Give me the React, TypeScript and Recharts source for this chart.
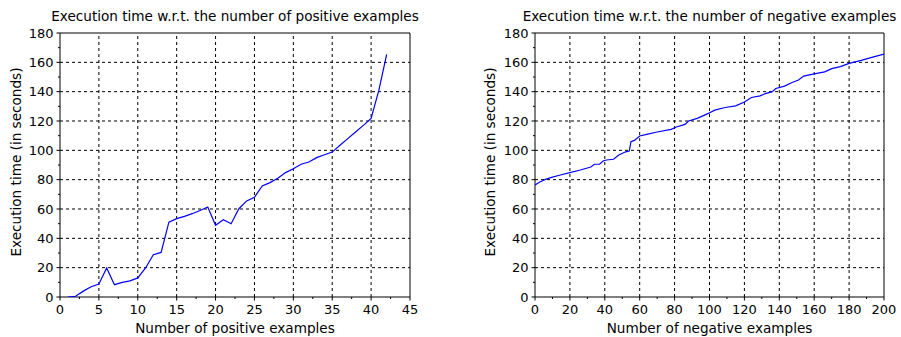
import React from 'react';
import { LineChart, Line, XAxis, YAxis, ReferenceLine, ReferenceArea, Label } from 'recharts';

// ---- data ----
const positiveCounts = [1, 2, 3, 4, 5, 6, 7, 8, 9, 10, 11, 12, 13, 14, 15, 16, 17, 18, 19, 20, 21, 22, 23, 24, 25, 26, 27, 28, 29, 30, 31, 32, 33, 34, 35, 36, 37, 38, 39, 40, 41, 42];
const positiveTimes = [0, 0.5, 4, 7, 8.9, 19.8, 8.4, 10, 11, 13, 19.8, 28.8, 30.4, 51, 53.4, 55, 56.8, 59, 61.4, 48.9, 52.7, 50, 60.2, 65.5, 68, 75.7, 78, 81, 84.8, 87.5, 90.5, 92, 95, 97, 98.8, 103.5, 108, 112.5, 117, 121.7, 141, 165.5];

const negativeCounts = [0, 3, 6, 9, 14, 20, 26, 32, 34, 37, 39, 41, 45, 48, 52, 54, 55, 57, 60, 64, 70, 78, 81, 86, 88, 93, 99, 103, 109, 115, 120, 124, 129, 132, 136, 138, 143, 147, 151, 154, 160, 166, 170, 175, 180, 187, 193, 200];
const negativeTimes = [76.4, 78.6, 80.2, 81.4, 83, 84.8, 86.6, 88.6, 90.5, 90.5, 92.7, 93.4, 93.9, 96.8, 99, 99.5, 105.9, 106.8, 109.8, 110.9, 112.5, 114.3, 115.9, 117.7, 120, 121.8, 125, 127.4, 129.2, 130.3, 133, 136, 137.1, 138.7, 140, 142.2, 143.8, 146.1, 147.9, 150.6, 152.1, 153.5, 155.7, 157.1, 159.3, 161.3, 163.4, 165.6];

const leftXMajor = [0, 5, 10, 15, 20, 25, 30, 35, 40, 45];
const leftXMinor = [2.5, 7.5, 12.5, 17.5, 22.5, 27.5, 32.5, 37.5, 42.5];
const rightXMajor = [0, 20, 40, 60, 80, 100, 120, 140, 160, 180, 200];
const rightXMinor = [10, 30, 50, 70, 90, 110, 130, 150, 170, 190];
const yMajor = [0, 20, 40, 60, 80, 100, 120, 140, 160, 180];
const yMinor = [10, 30, 50, 70, 90, 110, 130, 150, 170];

const leftTitle = 'Execution time w.r.t. the number of positive examples';
const rightTitle = 'Execution time w.r.t. the number of negative examples';
const leftXLabel = 'Number of positive examples';
const rightXLabel = 'Number of negative examples';
const yLabel = 'Execution time (in seconds)';

const positiveData = positiveCounts.map((n, i) => ({ n, t: positiveTimes[i] }));
const negativeData = negativeCounts.map((n, i) => ({ n, t: negativeTimes[i] }));

const FONT = 'DejaVu Sans';
const TICK_FS = 13;
const LABEL_FS = 13.6;

const sortNum = (a: number[]) => [...a].sort((p, q) => p - q);

const makeXTick = (majors: number[]) => (props: any) => {
  const { x, y, payload } = props;
  const v = payload.value;
  const major = majors.includes(v);
  return (
    <g>
      <line x1={x} x2={x} y1={y} y2={y + (major ? 3.5 : 2)} stroke="#000" strokeWidth={1} />
      {major && (
        <text x={x} y={y + 16.5} textAnchor="middle" fontFamily={FONT} fontSize={TICK_FS} fill="#000">
          {v}
        </text>
      )}
    </g>
  );
};

const makeYTick = (majors: number[]) => (props: any) => {
  const { x, y, payload } = props;
  const v = payload.value;
  const major = majors.includes(v);
  return (
    <g>
      <line x1={x} x2={x - (major ? 3.5 : 2)} y1={y} y2={y} stroke="#000" strokeWidth={1} />
      {major && (
        <text x={x - 6.5} y={y + 4.7} textAnchor="end" fontFamily={FONT} fontSize={TICK_FS} fill="#000">
          {v}
        </text>
      )}
    </g>
  );
};

const makeYLabel = (lx: number) => (props: any) => {
  const vb = props.viewBox || { y: 33, height: 264 };
  const cy = vb.y + vb.height / 2 - 3;
  return (
    <text
      x={lx}
      y={cy}
      transform={`rotate(-90 ${lx} ${cy})`}
      textAnchor="middle"
      fontFamily={FONT}
      fontSize={LABEL_FS}
      fill="#000"
    >
      {yLabel}
    </text>
  );
};

type PanelProps = {
  data: { n: number; t: number }[];
  xMajor: number[];
  xMinor: number[];
  title: string;
  xLabel: string;
  width: number;
  yAxisWidth: number;
  rightMargin: number;
  yLabelX: number;
};

function Panel({ data, xMajor, xMinor, title, xLabel, width, yAxisWidth, rightMargin, yLabelX }: PanelProps) {
  const xMax = xMajor[xMajor.length - 1];
  const yMax = yMajor[yMajor.length - 1];
  return (
    <LineChart width={width} height={337} data={data} margin={{ top: 33, right: rightMargin, bottom: 0, left: 0 }}>
      <XAxis
        dataKey="n"
        type="number"
        domain={[0, xMax]}
        ticks={sortNum([...xMajor, ...xMinor])}
        interval={0}
        allowDataOverflow
        axisLine={false}
        tickLine={false}
        tickSize={0}
        tickMargin={0}
        height={40}
        tick={makeXTick(xMajor)}
      >
        <Label value={xLabel} position="insideBottom" offset={4} fontFamily={FONT} fontSize={LABEL_FS} fill="#000" />
      </XAxis>
      <YAxis
        type="number"
        domain={[0, yMax]}
        ticks={sortNum([...yMajor, ...yMinor])}
        interval={0}
        allowDataOverflow
        axisLine={false}
        tickLine={false}
        tickSize={0}
        tickMargin={0}
        width={yAxisWidth}
        tick={makeYTick(yMajor)}
      >
        <Label content={makeYLabel(yLabelX)} />
      </YAxis>
      {xMajor.slice(1, -1).map((v) => (
        <ReferenceLine key={`vx${v}`} x={v} stroke="#000" strokeWidth={1} strokeDasharray="3 3" />
      ))}
      {yMajor.slice(1, -1).map((v) => (
        <ReferenceLine key={`hy${v}`} y={v} stroke="#000" strokeWidth={1} strokeDasharray="3 3" />
      ))}
      <Line
        type="linear"
        dataKey="t"
        stroke="#0000ff"
        strokeWidth={1.2}
        dot={false}
        isAnimationActive={false}
      />
      <ReferenceArea x1={0} x2={xMax} y1={0} y2={yMax} fill="none" fillOpacity={0} stroke="#000" strokeWidth={1}>
        <Label value={title} position="top" offset={12} fontFamily={FONT} fontSize={LABEL_FS} fill="#000" />
      </ReferenceArea>
    </LineChart>
  );
}

export default function App() {
  return (
    <div style={{ position: 'absolute', left: 0, top: 0, width: 901, height: 337, background: '#fff' }}>
      <div style={{ position: 'absolute', left: 0, top: 0 }}>
        <Panel
          data={positiveData}
          xMajor={leftXMajor}
          xMinor={leftXMinor}
          title={leftTitle}
          xLabel={leftXLabel}
          width={450}
          yAxisWidth={60}
          rightMargin={40}
          yLabelX={21}
        />
      </div>
      <div style={{ position: 'absolute', left: 450, top: 0 }}>
        <Panel
          data={negativeData}
          xMajor={rightXMajor}
          xMinor={rightXMinor}
          title={rightTitle}
          xLabel={rightXLabel}
          width={451}
          yAxisWidth={85}
          rightMargin={17}
          yLabelX={45}
        />
      </div>
    </div>
  );
}
